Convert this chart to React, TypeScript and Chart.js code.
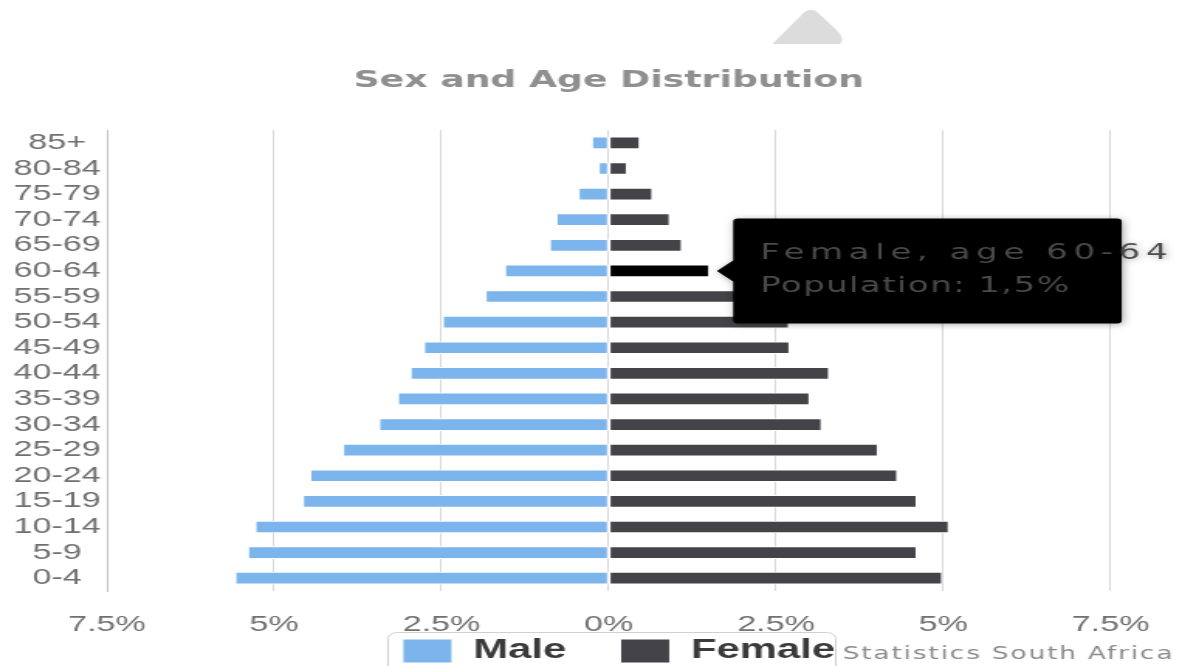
import React, { useEffect, useRef } from 'react';
import { Chart, Tooltip, registerables } from 'chart.js';

Chart.register(...registerables);

// ---- data ----
const ageGroups = ['85+', '80-84', '75-79', '70-74', '65-69', '60-64', '55-59', '50-54', '45-49', '40-44', '35-39', '30-34', '25-29', '20-24', '15-19', '10-14', '5-9', '0-4'];
const malePct = [0.25, 0.15, 0.45, 0.78, 0.88, 1.55, 1.84, 2.48, 2.76, 2.96, 3.15, 3.43, 3.97, 4.46, 4.57, 5.28, 5.39, 5.58];
const femalePct = [0.46, 0.27, 0.65, 0.91, 1.09, 1.5, 1.95, 2.69, 2.7, 3.29, 3.0, 3.18, 4.02, 4.31, 4.6, 5.08, 4.6, 4.98];
const seriesNames = ['Male', 'Female'];
const axisMin = -7.5;
const axisMax = 7.5;
const axisStep = 2.5;
const titleText = 'Sex and Age Distribution';
const creditText = 'Statistics South Africa';
const highlighted = { datasetIndex: 1, index: 5 };

// ---- sizes ----
const VIEW_W = 1182;
const VIEW_H = 666;
const CW = 763; // canvas bitmap width (stretched horizontally to VIEW_W)
const CH = 715;
const X_AXIS_H = 52;
const LEGEND_SHIFT_Y = -40.5;
const LEGEND_SHIFT_X = 6.5;

(Tooltip as any).positioners.barEnd = function (elements: any[]) {
  if (!elements.length) return false;
  const el = elements[0].element;
  return { x: el.x, y: el.y };
};

export default function App() {
  const ref = useRef<HTMLCanvasElement>(null);

  useEffect(() => {
    const canvas = ref.current;
    if (!canvas) return;

    const decor = {
      id: 'decor',
      afterLayout(chart: any) {
        const lg = chart.legend;
        if (lg) {
          lg.left += LEGEND_SHIFT_X;
          lg.right += LEGEND_SHIFT_X;
          lg.top += LEGEND_SHIFT_Y;
          lg.bottom += LEGEND_SHIFT_Y;
        }
      },
      beforeTooltipDraw(chart: any) {
        const ctx = chart.ctx;
        ctx.save();
        ctx.shadowColor = 'rgba(0,0,0,0.35)';
        ctx.shadowBlur = 6;
        ctx.shadowOffsetX = 1;
        ctx.shadowOffsetY = 1;
        const orig = CanvasRenderingContext2D.prototype.fillText;
        ctx.fillText = function (text: string, x: number, y: number, mw?: number) {
          this.letterSpacing = text.indexOf('Population') === 0 ? '0.9px' : '3.6px';
          if (mw === undefined) return orig.call(this, text, x, y);
          return orig.call(this, text, x, y, mw);
        };
      },
      afterTooltipDraw(chart: any) {
        const ctx = chart.ctx;
        delete ctx.fillText;
        ctx.restore();
      },
      afterDraw(chart: any) {
        const ctx = chart.ctx;
        ctx.save();
        // grey rounded triangle at top
        ctx.fillStyle = '#dcdcdc';
        ctx.beginPath();
        ctx.moveTo(498.5, 44);
        ctx.lineTo(519, 12.5);
        ctx.quadraticCurveTo(523, 7.5, 527.5, 12);
        ctx.lineTo(540, 30);
        ctx.quadraticCurveTo(546, 40, 542, 44);
        ctx.closePath();
        ctx.fill();
        // legend frame
        ctx.strokeStyle = '#d0d0d0';
        ctx.lineWidth = 1;
        ctx.beginPath();
        ctx.roundRect(250.5, 632.5, 289, 60, 6);
        ctx.stroke();
        // credits
        ctx.fillStyle = '#8a8a8a';
        ctx.font = '17px "DejaVu Sans"';
        (ctx as any).letterSpacing = '1.2px';
        ctx.textBaseline = 'middle';
        ctx.textAlign = 'left';
        ctx.fillText(creditText, 544, 655);
        ctx.restore();
      },
    };

    const chart = new Chart(canvas, {
      type: 'bar',
      data: {
        labels: ageGroups,
        datasets: [
          {
            label: seriesNames[0],
            data: malePct.map((v) => -v),
            backgroundColor: '#7cb5ec',
            hoverBackgroundColor: '#7cb5ec',
            borderColor: '#ffffff',
            hoverBorderColor: '#ffffff',
            borderWidth: 1,
            borderSkipped: false,
            barThickness: 12,
          },
          {
            label: seriesNames[1],
            data: femalePct,
            backgroundColor: '#434348',
            hoverBackgroundColor: '#000000',
            borderColor: '#ffffff',
            hoverBorderColor: '#ffffff',
            borderWidth: 1,
            borderSkipped: false,
            barThickness: 12,
          },
        ],
      },
      plugins: [decor],
      options: {
        indexAxis: 'y',
        responsive: false,
        devicePixelRatio: 1,
        animation: false,
        events: [],
        layout: { padding: { left: 0, right: 43.3, top: 0, bottom: 0 } },
        scales: {
          x: {
            stacked: true,
            min: axisMin,
            max: axisMax,
            ticks: {
              stepSize: axisStep,
              padding: 21,
              color: '#707070',
              font: { family: 'Liberation Sans', size: 22 },
              callback: (v: any) => `${Math.abs(Number(v))}%`,
            },
            grid: { color: '#d8d8d8', lineWidth: 1, drawTicks: false },
            border: { display: false },
            afterFit: (scale: any) => {
              scale.height = X_AXIS_H;
            },
          },
          y: {
            stacked: true,
            ticks: {
              autoSkip: false,
              padding: 4,
              crossAlign: 'center',
              color: '#707070',
              font: { family: 'Liberation Sans', size: 22, lineHeight: 1 },
            },
            grid: { display: false, drawTicks: false },
            border: { display: true, color: '#c4c4c4', width: 1 },
            afterFit: (scale: any) => {
              scale.width = 69;
            },
          },
        },
        plugins: {
          title: {
            display: true,
            text: titleText,
            fullSize: false,
            color: '#8f8f8f',
            font: { family: 'DejaVu Sans', size: 23.4, weight: 'bold' },
            padding: { top: 66.8, bottom: 35.2 },
          },
          legend: {
            display: true,
            position: 'bottom',
            fullSize: false,
            labels: {
              boxWidth: 32,
              boxHeight: 24,
              padding: 35,
              color: '#3a3a3a',
              font: { family: 'Liberation Sans', size: 27, weight: 'bold' },
            },
          },
          tooltip: {
            enabled: true,
            animation: false,
            position: 'barEnd' as any,
            xAlign: 'left',
            yAlign: 'center',
            backgroundColor: '#000000',
            titleColor: '#4a4a4a',
            bodyColor: '#4a4a4a',
            titleFont: { family: 'DejaVu Sans', size: 22, weight: 'normal' },
            bodyFont: { family: 'DejaVu Sans', size: 22, weight: 'normal' },
            titleMarginBottom: 6.6,
            titleSpacing: 0,
            bodySpacing: 0,
            displayColors: false,
            caretSize: 10.5,
            caretPadding: 5,
            cornerRadius: 3,
            padding: { left: 17.4, right: 28, top: 21.8, bottom: 23.8 },
            callbacks: {
              title: (items: any[]) => `${items[0].dataset.label}, age ${items[0].label}`,
              label: (item: any) => `Population: ${Math.abs(Number(item.raw)).toFixed(1).replace('.', ',')}%`,
            },
          },
        },
      } as any,
    });

    chart.setActiveElements([highlighted]);
    chart.tooltip?.setActiveElements([highlighted], { x: 0, y: 0 });
    chart.update();

    return () => chart.destroy();
  }, []);

  return (
    <div
      style={{
        position: 'fixed',
        left: 0,
        top: 0,
        width: VIEW_W,
        height: VIEW_H,
        overflow: 'hidden',
        background: '#ffffff',
      }}
    >
      <canvas
        ref={ref}
        width={CW}
        height={CH}
        style={{ width: `${VIEW_W}px`, height: `${CH}px`, display: 'block' }}
      />
    </div>
  );
}
